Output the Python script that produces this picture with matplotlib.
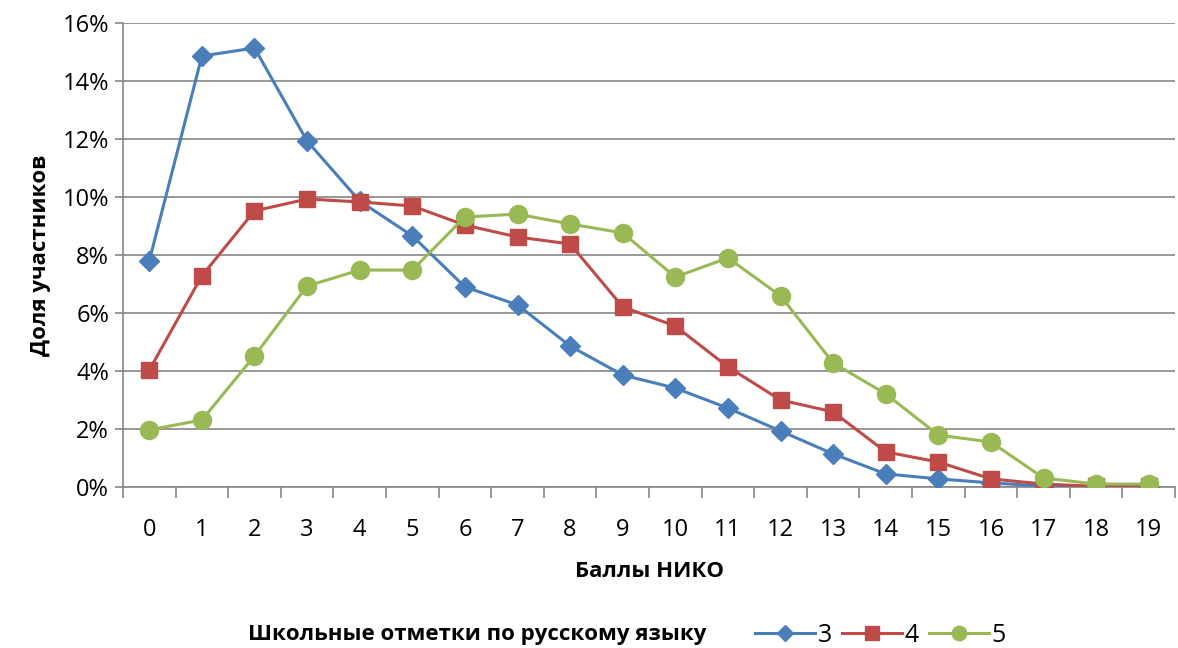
import matplotlib
matplotlib.use("Agg")
import matplotlib.pyplot as plt
from matplotlib.ticker import FuncFormatter, MultipleLocator, FixedLocator

plt.rcParams['font.family'] = ['Open Sans', 'DejaVu Sans']

categories = [str(i) for i in range(20)]
series_names = ["3", "4", "5"]
s3 = [7.8, 14.86, 15.14, 11.93, 9.86, 8.66, 6.9, 6.28, 4.86, 3.86, 3.41, 2.72, 1.93, 1.14, 0.45, 0.28, 0.14, 0.03, 0.01, 0.0]
s4 = [4.03, 7.28, 9.52, 9.93, 9.83, 9.69, 9.03, 8.62, 8.38, 6.21, 5.55, 4.14, 3.0, 2.59, 1.21, 0.86, 0.28, 0.1, 0.02, 0.02]
s5 = [1.97, 2.31, 4.52, 6.93, 7.48, 7.48, 9.31, 9.41, 9.07, 8.76, 7.24, 7.9, 6.59, 4.28, 3.21, 1.79, 1.55, 0.31, 0.1, 0.1]
x_label = "Баллы НИКО"
y_label = "Доля участников"
legend_title = "Школьные отметки по русскому языку"

colors = ["#4A7EBB", "#BE4B48", "#98B954"]
markers = ["D", "s", "o"]
msizes = [10, 12, 13]

fig = plt.figure(figsize=(11.78, 6.48), dpi=100)
ax = fig.add_axes([0.1044, 0.2485, 0.8931, 0.716])

x = list(range(len(categories)))
handles = []
for vals, c, m, ms, name in zip([s3, s4, s5], colors, markers, msizes, series_names):
    h, = ax.plot(x, [v / 100 for v in vals], color=c, marker=m, markersize=ms,
                 linewidth=2.2, markeredgecolor=c, label=name, zorder=3)
    handles.append(h)

ax.set_xlim(-0.5, len(categories) - 0.5)
ax.set_ylim(0, 0.16)
ax.yaxis.set_major_locator(MultipleLocator(0.02))
ax.yaxis.set_major_formatter(FuncFormatter(lambda v, p: f"{v*100:.0f}%"))
ax.grid(axis='y', color='#868686', linewidth=1.2, zorder=0)

ax.set_xticks(x)
ax.set_xticklabels(categories)
ax.xaxis.set_minor_locator(FixedLocator([i - 0.5 for i in range(len(categories) + 1)]))
ax.tick_params(axis='x', which='major', length=0, labelsize=17, pad=22)
ax.tick_params(axis='x', which='minor', length=8, width=1.2, color='#868686')
ax.tick_params(axis='y', which='major', length=6, width=1.2, color='#868686', labelsize=17, pad=4)

for s in ['top', 'right']:
    ax.spines[s].set_visible(False)
for s in ['left', 'bottom']:
    ax.spines[s].set_color('#868686')
    ax.spines[s].set_linewidth(1.2)

ax.set_xlabel(x_label, fontsize=16, fontweight='bold', labelpad=14)
ax.set_ylabel(y_label, fontsize=16, fontweight='bold', labelpad=8)

fig.text(0.6, 0.005, legend_title, fontsize=16, fontweight='bold', ha='right', va='bottom')
fig.legend(handles=handles, labels=series_names, loc='lower left', bbox_to_anchor=(0.622, -0.034),
           ncol=3, frameon=False, fontsize=18, handlelength=2.4, columnspacing=0.4,
           handletextpad=0.1, markerscale=0.8)

fig.savefig("out.png", dpi=100)
